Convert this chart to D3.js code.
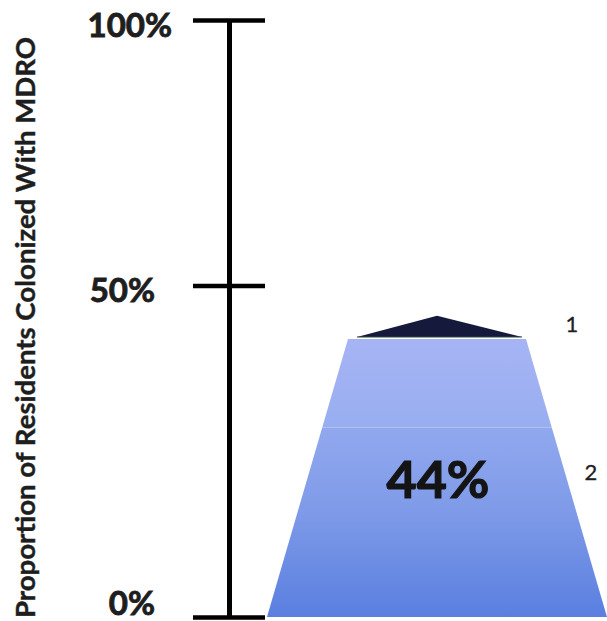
<!DOCTYPE html>
<html>
<head>
<meta charset="utf-8">
<script src="https://cdn.jsdelivr.net/npm/d3@7/dist/d3.min.js"></script>
<style>
  html, body { margin: 0; padding: 0; background: #ffffff; }
  svg { display: block; }
  text { font-family: Lato, "Open Sans", "DejaVu Sans", sans-serif; }
</style>
</head>
<body>
<script>
// Axis ticks and their labels
const tickValues = [0, 50, 100];
const tickLabels = ["0%", "50%", "100%"];

// Colonized share (body of the shape) and its two stacked segments
const colonized = 44;
const segmentNames = ["2", "1"];
const segmentStarts = [0, 30];
const segmentEnds = [30, 44];
// Small cap drawn on top of the body
const capPeak = 46.6;

const axisTitle = "Proportion of Residents Colonized With MDRO";

const W = 607, H = 621;
const svg = d3.select("body").append("svg")
  .attr("width", W).attr("height", H);

// The vertical axis is drawn as a piecewise scale
const y = d3.scaleLinear()
  .domain([0, colonized, 50, 100])
  .range([617, 339, 285.5, 20]);

const axisX = 229;
const cx = 437;
// Half-width of the tapered shape as a function of pixel height
const halfW = d3.scaleLinear().domain([y(0), y(colonized)]).range([170, 89]);

// Gradients
const defs = svg.append("defs");
const g1 = defs.append("linearGradient").attr("id", "gTop")
  .attr("x1", 0).attr("y1", 0).attr("x2", 0).attr("y2", 1);
g1.append("stop").attr("offset", "0%").attr("stop-color", "#a6b4f4");
g1.append("stop").attr("offset", "100%").attr("stop-color", "#98aef0");
const g2 = defs.append("linearGradient").attr("id", "gBottom")
  .attr("x1", 0).attr("y1", 0).attr("x2", 0).attr("y2", 1);
g2.append("stop").attr("offset", "0%").attr("stop-color", "#91a8ee");
g2.append("stop").attr("offset", "45%").attr("stop-color", "#7e9ae8");
g2.append("stop").attr("offset", "100%").attr("stop-color", "#5a7fe0");
const fills = ["url(#gBottom)", "url(#gTop)"];

// Stacked trapezoid segments
segmentNames.forEach((name, i) => {
  const yb = y(segmentStarts[i]), yt = y(segmentEnds[i]);
  const pts = [
    [cx - halfW(yb), yb], [cx + halfW(yb), yb],
    [cx + halfW(yt), yt], [cx - halfW(yt), yt]
  ];
  svg.append("path")
    .attr("d", d3.line()(pts) + "Z")
    .attr("fill", fills[i]);
});

// Dark cap
const capBase = y(colonized) - 2;
svg.append("path")
  .attr("d", d3.line()([[cx - 80, capBase], [cx, y(capPeak)], [cx + 85, capBase]]) + "Z")
  .attr("fill", "#151a3c");
svg.append("line")
  .attr("x1", cx - 80).attr("x2", cx + 85)
  .attr("y1", capBase).attr("y2", capBase)
  .attr("stroke", "#2f4a38").attr("stroke-width", 1.2);

// Axis: centred ticks built from a left and a right axis
const axisG = svg.append("g").attr("transform", `translate(${axisX},0)`);
axisG.append("g")
  .call(d3.axisLeft(y).tickValues(tickValues).tickSize(36).tickSizeOuter(0).tickFormat(""));
axisG.append("g")
  .call(d3.axisRight(y).tickValues(tickValues).tickSize(36).tickSizeOuter(0).tickFormat(""));
axisG.selectAll(".domain").attr("stroke", "#000").attr("stroke-width", 5);
axisG.selectAll(".tick line").attr("stroke", "#000").attr("stroke-width", 4.5);

// Tick labels
const labelPos = { 0: [155, -2], 50: [155, 16.5], 100: [172, 17] };
tickValues.forEach((v, i) => {
  svg.append("text")
    .attr("x", labelPos[v][0])
    .attr("y", y(v) + labelPos[v][1])
    .attr("text-anchor", "end")
    .attr("font-size", 33).attr("font-weight", 700)
    .attr("fill", "#1e1e1e")
    .attr("stroke", "#1e1e1e").attr("stroke-width", 0.9)
    .text(tickLabels[i]);
});

// Axis title
svg.append("text")
  .attr("transform", "translate(35,327.5) rotate(-90)")
  .attr("text-anchor", "middle")
  .attr("font-size", 27).attr("font-weight", 700)
  .attr("fill", "#1e1e1e")
  .attr("stroke", "#1e1e1e").attr("stroke-width", 0.4)
  .attr("textLength", 581).attr("lengthAdjust", "spacingAndGlyphs")
  .text(axisTitle);

// Value label
svg.append("text")
  .attr("x", cx + 1).attr("y", 498)
  .attr("text-anchor", "middle")
  .attr("font-size", 52).attr("font-weight", 700)
  .attr("fill", "#141414")
  .attr("stroke", "#141414").attr("stroke-width", 1.2)
  .text(colonized + "%");

// Segment callouts
svg.append("text")
  .attr("x", cx + 135).attr("y", y(colonized) - 7)
  .attr("text-anchor", "middle")
  .attr("font-size", 22).attr("fill", "#1e1e1e")
  .attr("stroke", "#1e1e1e").attr("stroke-width", 0.3)
  .text(segmentNames[1]);
svg.append("text")
  .attr("x", cx + 154).attr("y", y(colonized / 2) + 2)
  .attr("text-anchor", "middle")
  .attr("font-size", 22).attr("fill", "#1e1e1e")
  .attr("stroke", "#1e1e1e").attr("stroke-width", 0.3)
  .text(segmentNames[0]);
</script>
</body>
</html>
